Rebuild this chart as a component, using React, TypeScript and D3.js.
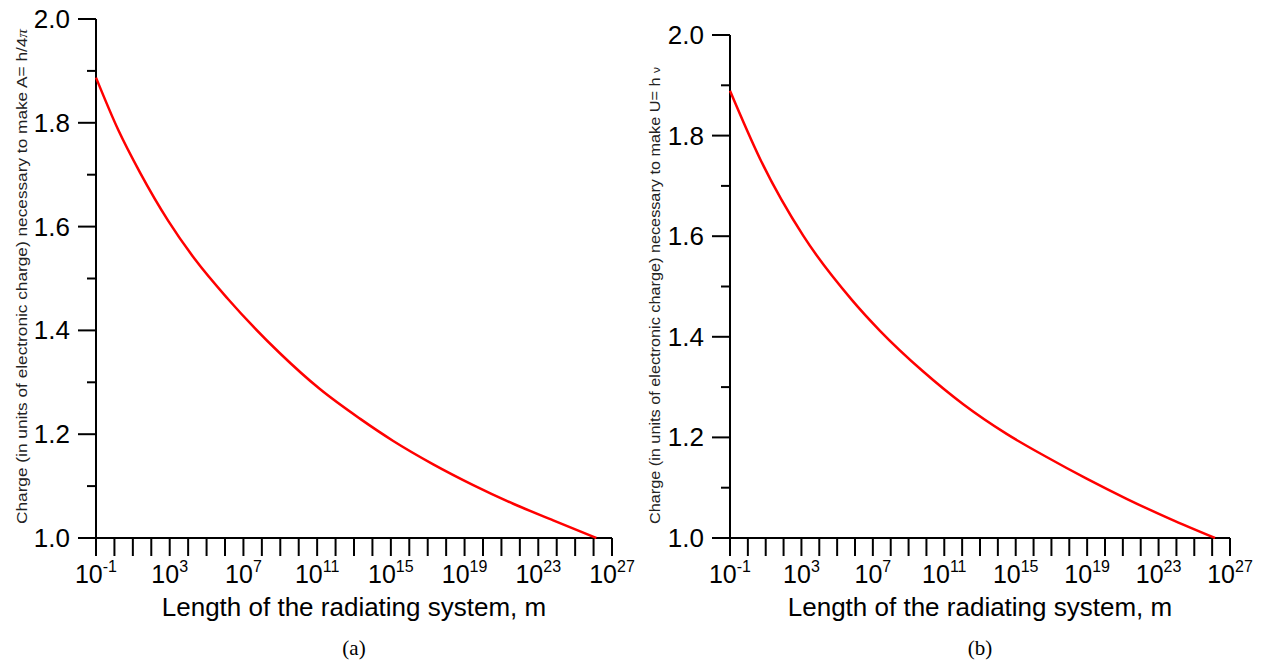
import React, { useRef, useEffect } from 'react';
import * as d3 from 'd3';

// length of the radiating system as log10(m), and the charge
const lengthExpA = [-1, 0.21, 1.39, 2.92, 4.37, 6.15, 8.98, 11.15, 13.32, 15.13, 17.3, 19.47, 21.64, 23.81, 26.15];
const chargeA = [1.887, 1.786, 1.704, 1.611, 1.537, 1.461, 1.356, 1.287, 1.23, 1.187, 1.142, 1.102, 1.066, 1.034, 1.0];
const lengthExpB = [-1, 0.68, 3.1, 5.81, 7.4, 9.82, 12.06, 14.49, 16.73, 18.97, 21.21, 23.64, 26.16];
const chargeB = [1.889, 1.754, 1.601, 1.474, 1.412, 1.331, 1.266, 1.207, 1.161, 1.118, 1.078, 1.038, 1.0];

const xLabelExps = [-1, 3, 7, 11, 15, 19, 23, 27];
const yMajor = [1.0, 1.2, 1.4, 1.6, 1.8, 2.0];
const yMinor = [1.1, 1.3, 1.5, 1.7, 1.9];
const xTitle = 'Length of the radiating system, m';
const yTitleBase = 'Charge (in units of electronic charge) necessary to make ';

const panels = [
  { left: 96, right: 612, top: 19, bottom: 538, exps: lengthExpA, vals: chargeA, yMain: 'A= h/4', ySym: 'π', italic: true, labelX: 27, labelLen: 495, caption: '(a)' },
  { left: 730, right: 1230, top: 35, bottom: 538, exps: lengthExpB, vals: chargeB, yMain: 'U= h ', ySym: 'ν', italic: false, labelX: 660, labelLen: 457, caption: '(b)' },
];

const FONT = 'Arial, "Liberation Sans", sans-serif';

const App = () => {
  const svgRef = useRef(null);

  useEffect(() => {
    const svg = d3.select(svgRef.current);
    svg.selectAll('*').remove();

    panels.forEach((p) => {
      const g = svg.append('g');
      const x = d3.scaleLog().domain([1e-1, 1e27]).range([p.left, p.right]);
      const y = d3.scaleLinear().domain([1, 2]).range([p.bottom, p.top]);

      // axis lines
      g.append('line')
        .attr('x1', p.left).attr('x2', p.left)
        .attr('y1', y(1)).attr('y2', y(2))
        .attr('stroke', '#000').attr('stroke-width', 2);
      g.append('line')
        .attr('x1', x(1e-1)).attr('x2', x(1e27))
        .attr('y1', p.bottom).attr('y2', p.bottom)
        .attr('stroke', '#000').attr('stroke-width', 2);

      // y ticks
      g.selectAll('.ymaj').data(yMajor).enter().append('line')
        .attr('x1', p.left - 18).attr('x2', p.left)
        .attr('y1', (d) => y(d)).attr('y2', (d) => y(d))
        .attr('stroke', '#000').attr('stroke-width', 2);
      g.selectAll('.ymin').data(yMinor).enter().append('line')
        .attr('x1', p.left - 9).attr('x2', p.left)
        .attr('y1', (d) => y(d)).attr('y2', (d) => y(d))
        .attr('stroke', '#000').attr('stroke-width', 2);
      g.selectAll('.ylab').data(yMajor).enter().append('text')
        .attr('x', p.left - 26).attr('y', (d) => y(d) + 9)
        .attr('text-anchor', 'end')
        .attr('font-family', FONT).attr('font-size', 26)
        .text((d) => d.toFixed(1));

      // x ticks, one per decade
      const decades = d3.range(-1, 28);
      g.selectAll('.xt').data(decades).enter().append('line')
        .attr('x1', (d) => x(Math.pow(10, d))).attr('x2', (d) => x(Math.pow(10, d)))
        .attr('y1', p.bottom).attr('y2', p.bottom + 18)
        .attr('stroke', '#000').attr('stroke-width', 2);
      const xl = g.selectAll('.xl').data(xLabelExps).enter().append('text')
        .attr('x', (d) => x(Math.pow(10, d))).attr('y', 583)
        .attr('text-anchor', 'middle')
        .attr('font-family', FONT).attr('font-size', 25);
      xl.append('tspan').text('10');
      xl.append('tspan').attr('font-size', 16).attr('dy', -11).text((d) => String(d));

      // x title and caption
      g.append('text')
        .attr('x', (p.left + p.right) / 2).attr('y', 616)
        .attr('text-anchor', 'middle')
        .attr('font-family', FONT).attr('font-size', 26)
        .text(xTitle);
      g.append('text')
        .attr('x', (p.left + p.right) / 2).attr('y', 655)
        .attr('text-anchor', 'middle')
        .attr('font-family', '"Liberation Serif", "Times New Roman", serif').attr('font-size', 21)
        .text(p.caption);

      // y title, drawn upward from just above the x axis
      const yt = g.append('text')
        .attr('transform', `translate(${p.labelX},524) rotate(-90)`)
        .attr('text-anchor', 'start')
        .attr('font-family', FONT).attr('font-size', 15)
        .attr('textLength', p.labelLen)
        .attr('lengthAdjust', 'spacingAndGlyphs')
        .attr('fill', '#222');
      yt.append('tspan').text(yTitleBase + p.yMain);
      yt.append('tspan')
        .attr('font-size', p.italic ? 15 : 11)
        .attr('font-style', p.italic ? 'italic' : 'normal')
        .attr('font-family', p.italic ? '"Liberation Serif", serif' : FONT)
        .text(p.ySym);

      // curve
      const pts = p.exps.map((e, i) => [Math.pow(10, e), p.vals[i]]);
      const line = d3.line()
        .x((d) => x(d[0]))
        .y((d) => y(d[1]))
        .curve(d3.curveMonotoneX);
      g.append('path')
        .datum(pts)
        .attr('d', line)
        .attr('fill', 'none')
        .attr('stroke', '#ff0000')
        .attr('stroke-width', 2.5);
    });
  }, []);

  return (
    <svg
      ref={svgRef}
      width={1262}
      height={665}
      style={{ position: 'absolute', left: 0, top: 0, background: '#fff' }}
    />
  );
};

export default App;
